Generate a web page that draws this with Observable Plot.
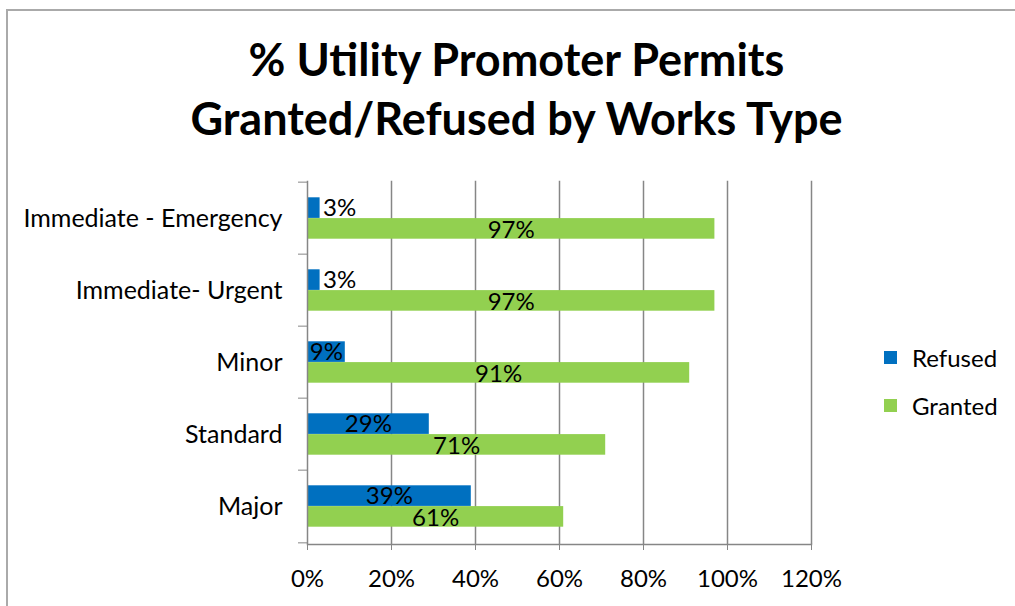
<!DOCTYPE html>
<html>
<head>
<meta charset="utf-8">
<script src="https://cdn.jsdelivr.net/npm/d3@7"></script>
<script src="https://cdn.jsdelivr.net/npm/@observablehq/plot@0.6"></script>
<style>
  body { margin: 0; background: #fff; font-family: Lato, "Open Sans", sans-serif; }
  #wrap { position: relative; width: 1015px; height: 606px; overflow: hidden; background: #fff; }
  #border { position: absolute; left: 6px; top: 9px; width: 1100px; height: 700px; border: 2px solid #aaaaaa; box-sizing: border-box; }
  #title { position: absolute; left: 0; top: 30px; width: 1033px; text-align: center; font-weight: bold; font-size: 45px; line-height: 59px; color: #000; }
  #chart { position: absolute; left: 0; top: 170px; }
  #legend { position: absolute; left: 884px; top: 342px; font-size: 24px; color: #000; }
  .item { display: flex; align-items: center; height: 30px; margin-bottom: 18px; }
  .sw { width: 13px; height: 13px; margin-right: 15px; }
</style>
</head>
<body>
<div id="wrap">
  <div id="border"></div>
  <div id="title">% Utility Promoter Permits<br>Granted/Refused by Works Type</div>
  <div id="chart"></div>
  <div id="legend"></div>
</div>
<script>
const categories = ["Immediate - Emergency", "Immediate- Urgent", "Minor", "Standard", "Major"];
const refused = [0.03, 0.03, 0.09, 0.29, 0.39];
const granted = [0.97, 0.97, 0.91, 0.71, 0.61];
const series = ["Refused", "Granted"];
const colors = ["#0070C0", "#92D050"];
const xTicks = [0, 0.2, 0.4, 0.6, 0.8, 1.0, 1.2];

const rows = categories.flatMap((c, i) => [
  {cat: c, series: "Refused", value: refused[i]},
  {cat: c, series: "Granted", value: granted[i]}
]);
const ref = rows.filter(d => d.series === "Refused");
const gra = rows.filter(d => d.series === "Granted");
const pct = d => Math.round(d.value * 100) + "%";
const gray = "#868686";
const fs = 24;

const chart = Plot.plot({
  width: 1015,
  height: 436,
  marginTop: 10.7,
  marginBottom: 62,
  marginLeft: 307,
  marginRight: 204,
  style: {fontFamily: "Lato, 'Open Sans', sans-serif", background: "transparent", color: "#000"},
  x: {domain: [0, 1.2], label: null},
  y: {domain: categories, padding: 0, label: null},
  color: {domain: series, range: colors},
  marks: [
    Plot.gridX(xTicks.slice(1), {stroke: gray, strokeOpacity: 1, strokeWidth: 1.5}),
    Plot.barX(ref, {x: "value", y: "cat", fill: "series", insetTop: 15.3, insetBottom: 36.1}),
    Plot.barX(gra, {x: "value", y: "cat", fill: "series", insetTop: 36.1, insetBottom: 15.3}),
    Plot.ruleX([0], {stroke: gray, strokeWidth: 1.5}),
    Plot.frame({anchor: "bottom", stroke: gray, strokeWidth: 1.5}),
    Plot.axisX({ticks: xTicks, tickFormat: d => Math.round(d * 100) + "%", tickSize: 6, tickPadding: 19, stroke: gray, fontSize: fs, fill: "#000", label: null}),
    Plot.axisY({tickSize: 9, dy: -36.35, tickFormat: () => "", stroke: gray, label: null}),
    Plot.axisY({ticks: ["Major"], tickSize: 9, dy: 36.35, tickFormat: () => "", stroke: gray, label: null}),
    Plot.axisY({tickSize: 0, tickPadding: 25, fontSize: 25, fill: "#000", label: null}),
    Plot.text(ref.filter(d => d.value < 0.05), {x: "value", y: "cat", text: pct, textAnchor: "start", dx: 3, dy: -10.5, fontSize: fs, fill: "#000"}),
    Plot.text(ref.filter(d => d.value >= 0.05), {x: d => d.value / 2, y: "cat", text: pct, dy: -10.5, fontSize: fs, fill: "#000"}),
    Plot.text(gra, {x: d => d.value / 2, y: "cat", text: pct, dy: 11.5, fontSize: fs, fill: "#000"})
  ]
});
document.getElementById("chart").appendChild(chart);

const legend = document.getElementById("legend");
series.forEach((s, i) => {
  const it = document.createElement("div");
  it.className = "item";
  it.innerHTML = `<span class="sw" style="background:${colors[i]}"></span><span>${s}</span>`;
  legend.appendChild(it);
});
</script>
</body>
</html>
